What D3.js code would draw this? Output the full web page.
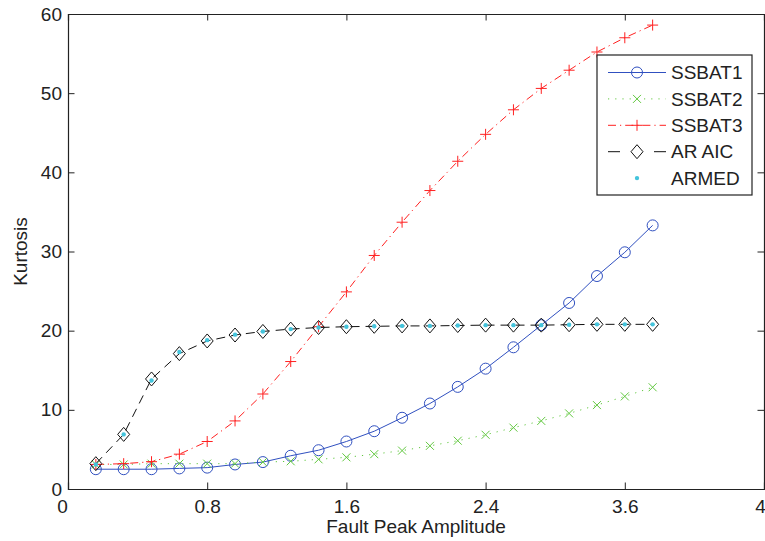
<html>
<head>
	<meta charset="UTF-8">
	<title>Kurtosis vs Fault Peak Amplitude</title>
	<style>
		body { margin: 0; background: #fff; }
		text { font-family: "Liberation Sans", Arial, sans-serif; fill: #222; }
		.axis path, .axis line { stroke: #222; }
	</style>
</head>
<body>
	<script src="https://cdnjs.cloudflare.com/ajax/libs/d3/7.8.5/d3.min.js"></script>
	<script>
		// data
		var amplitude = [0.16, 0.32, 0.48, 0.64, 0.80, 0.96, 1.12, 1.28, 1.44, 1.60, 1.76,
			1.92, 2.08, 2.24, 2.40, 2.56, 2.72, 2.88, 3.04, 3.20, 3.36];
		var ssbat1 = [2.5, 2.5, 2.5, 2.6, 2.7, 3.1, 3.4, 4.2, 4.9, 6.0, 7.3,
			9.0, 10.8, 12.9, 15.2, 17.9, 20.7, 23.5, 26.9, 29.9, 33.3];
		var ssbat2 = [3.1, 3.1, 3.2, 3.2, 3.2, 3.2, 3.4, 3.5, 3.75, 4.0, 4.4,
			4.85, 5.45, 6.1, 6.85, 7.75, 8.6, 9.55, 10.6, 11.7, 12.85];
		var ssbat3 = [3.1, 3.2, 3.45, 4.4, 6.0, 8.6, 12.0, 16.1, 20.5, 24.9, 29.5,
			33.7, 37.7, 41.4, 44.8, 47.9, 50.6, 52.9, 55.2, 57.0, 58.6];
		var arAic = [3.2, 6.9, 13.9, 17.1, 18.7, 19.45, 19.9, 20.2, 20.4, 20.5, 20.55,
			20.6, 20.6, 20.65, 20.7, 20.7, 20.7, 20.75, 20.8, 20.8, 20.8];
		var armed = [3.1, 6.9, 13.7, 17.3, 18.8, 19.5, 19.9, 20.2, 20.4, 20.5, 20.55,
			20.6, 20.6, 20.65, 20.7, 20.7, 20.7, 20.75, 20.8, 20.8, 20.8];

		var xTicks = [0, 0.8, 1.6, 2.4, 3.2, 4];
		var xTickLabels = ["0", "0.8", "1.6", "2.4", "3.6", "4"];
		var yTicks = [0, 10, 20, 30, 40, 50, 60];

		var margin = {top: 14, right: 1, bottom: 52, left: 68},
			width = 765 - margin.left - margin.right,
			height = 541 - margin.top - margin.bottom;
		var fs = "19px";

		var x = d3.scaleLinear().domain([0, 4]).range([0, width]);
		var y = d3.scaleLinear().domain([0, 60]).range([height, 0]);

		var svg = d3.select("body").append("svg")
			.attr("width", 765)
			.attr("height", 541)
			.append("g")
				.attr("transform", "translate(" + margin.left + "," + margin.top + ")");

		// frame + ticks (inward, mirrored like matlab)
		var bottom = svg.append("g")
			.attr("class", "axis")
			.attr("transform", "translate(0," + height + ")")
			.call(d3.axisBottom(x).tickValues(xTicks).tickSize(-6.5).tickPadding(10.5)
				.tickFormat(function(d, i) { return xTickLabels[i]; }));
		bottom.selectAll("text").style("font-size", fs)
			.attr("dx", function(d, i) { return i == 0 ? -6 : (i == xTicks.length - 1 ? -4 : 0); });

		svg.append("g").attr("class", "axis")
			.call(d3.axisTop(x).tickValues(xTicks).tickSize(-6.5).tickFormat(""));

		var left = svg.append("g").attr("class", "axis")
			.call(d3.axisLeft(y).tickValues(yTicks).tickSize(-6.5).tickPadding(6));
		left.selectAll("text").style("font-size", fs);

		svg.append("g").attr("class", "axis")
			.attr("transform", "translate(" + width + ",0)")
			.call(d3.axisRight(y).tickValues(yTicks).tickSize(-6.5).tickFormat(""));

		svg.selectAll(".axis .domain").attr("stroke-width", 1.2);

		svg.append("text")
			.attr("x", width / 2)
			.attr("y", height + 44)
			.attr("text-anchor", "middle")
			.style("font-size", fs)
			.text("Fault Peak Amplitude");

		svg.append("text")
			.attr("transform", "translate(" + (-41) + "," + (height / 2) + ") rotate(-90)")
			.attr("text-anchor", "middle")
			.style("font-size", fs)
			.text("Kurtosis");

		var series = [
			{name: "SSBAT1", values: ssbat1, color: "#3050c0", dash: null, marker: "circle"},
			{name: "SSBAT2", values: ssbat2, color: "#62c840", dash: "1.2,6", marker: "x"},
			{name: "SSBAT3", values: ssbat3, color: "#ff2020", dash: "8,4,1.2,4", marker: "plus"},
			{name: "AR AIC", values: arAic, color: "#111", dash: "9,6", marker: "diamond"},
			{name: "ARMED", values: armed, color: "#44c4dc", dash: "none", marker: "dot"}
		];

		var markerPath = {
			x: "M-4,-4L4,4M-4,4L4,-4",
			plus: "M-5.5,0H5.5M0,-5.5V5.5",
			diamond: "M0,-7L6,0L0,7L-6,0Z"
		};

		function drawMarker(g, s) {
			if (s.marker == "circle") {
				g.append("circle").attr("r", 5.5).attr("fill", "none")
					.attr("stroke", s.color).attr("stroke-width", 1);
			} else if (s.marker == "dot") {
				g.append("circle").attr("r", 2.2).attr("fill", s.color);
			} else {
				g.append("path").attr("d", markerPath[s.marker]).attr("fill", "none")
					.attr("stroke", s.color).attr("stroke-width", 1);
			}
		}

		var line = d3.line()
			.x(function(d) { return x(d.x); })
			.y(function(d) { return y(d.y); });

		series.forEach(function(s) {
			var pts = amplitude.map(function(a, i) { return {x: a, y: s.values[i]}; });
			if (s.dash != "none") {
				svg.append("path")
					.datum(pts)
					.attr("d", line)
					.attr("fill", "none")
					.attr("stroke", s.color)
					.attr("stroke-width", 1)
					.attr("stroke-dasharray", s.dash);
			}
			svg.selectAll(null)
				.data(pts)
				.enter().append("g")
				.attr("transform", function(d) { return "translate(" + x(d.x) + "," + y(d.y) + ")"; })
				.each(function() { drawMarker(d3.select(this), s); });
		});

		// legend
		var legend = svg.append("g")
			.attr("transform", "translate(" + (597 - margin.left) + "," + (55 - margin.top) + ")");
		legend.append("rect")
			.attr("width", 155).attr("height", 140)
			.attr("fill", "#fff").attr("stroke", "#222").attr("stroke-width", 1.2);

		series.forEach(function(s, i) {
			var row = legend.append("g").attr("transform", "translate(0," + (17.5 + i * 26.4) + ")");
			if (s.dash != "none") {
				row.append("line")
					.attr("x1", 11).attr("x2", 69)
					.attr("stroke", s.color).attr("stroke-width", 1)
					.attr("stroke-dasharray", s.dash == "9,6" ? "12,34,12" : s.dash);
			}
			var m = row.append("g").attr("transform", "translate(40,0)");
			drawMarker(m, s);
			row.append("text")
				.attr("x", 74).attr("dy", "0.35em")
				.style("font-size", fs)
				.text(s.name);
		});
	</script>
</body>
</html>
